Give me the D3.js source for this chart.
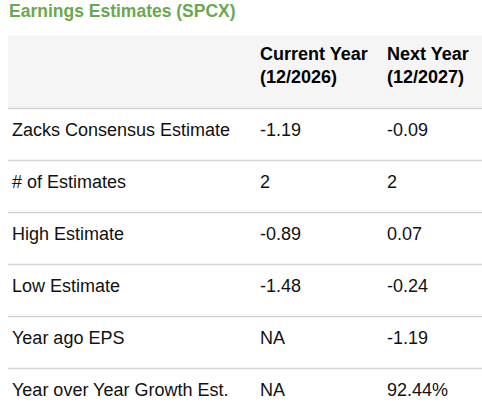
<html><head>
<script src="https://d3js.org/d3.v7.min.js"></script>
<style>body{margin:0;background:#fff;font-family:"Liberation Sans",Arial,sans-serif;}</style>
</head><body>
<svg id="chart" width="482" height="408"></svg>
<script>
const title = "Earnings Estimates (SPCX)";
const headers = [["Current Year", "(12/2026)"], ["Next Year", "(12/2027)"]];
const labels = ["Zacks Consensus Estimate", "# of Estimates", "High Estimate", "Low Estimate", "Year ago EPS", "Year over Year Growth Est."];
const currentYear = ["-1.19", "2", "-0.89", "-1.48", "NA", "NA"];
const nextYear = ["-0.09", "2", "0.07", "-0.24", "-1.19", "92.44%"];

const svg = d3.select("#chart");
const colX = [12, 260, 387];
const headTop = 35, headBottom = 108, rowH = 52;
const y = d3.scaleBand().domain(d3.range(labels.length)).range([headBottom, headBottom + rowH * labels.length]);

svg.append("text").attr("x", 9).attr("y", 17).attr("fill", "#6aa84f")
  .attr("font-size", 17.5).attr("font-weight", "bold").text(title);

svg.append("rect").attr("x", 8).attr("y", headTop).attr("width", 474).attr("height", headBottom - headTop).attr("fill", "#f5f5f5");

headers.forEach((h, i) => {
  h.forEach((t, j) => {
    svg.append("text").attr("x", colX[i + 1]).attr("y", 60 + j * 23)
      .attr("font-size", 18).attr("font-weight", "bold").attr("fill", "#000").text(t);
  });
});

const rows = svg.selectAll("g.row").data(labels).join("g").attr("class", "row")
  .attr("transform", (d, i) => `translate(0,${y(i)})`);
rows.append("line").attr("x1", 8).attr("x2", 482).attr("y1", 0.5).attr("y2", 0.5)
  .attr("stroke", "#d4d4d4").attr("stroke-width", 1.5);
rows.each(function(d, i) {
  const g = d3.select(this);
  [d, currentYear[i], nextYear[i]].forEach((t, c) => {
    g.append("text").attr("x", colX[c]).attr("y", y.bandwidth() / 2 - 4).attr("dy", "0.35em")
      .attr("font-size", 18).attr("fill", "#111").text(t);
  });
});
</script>
</body></html>
